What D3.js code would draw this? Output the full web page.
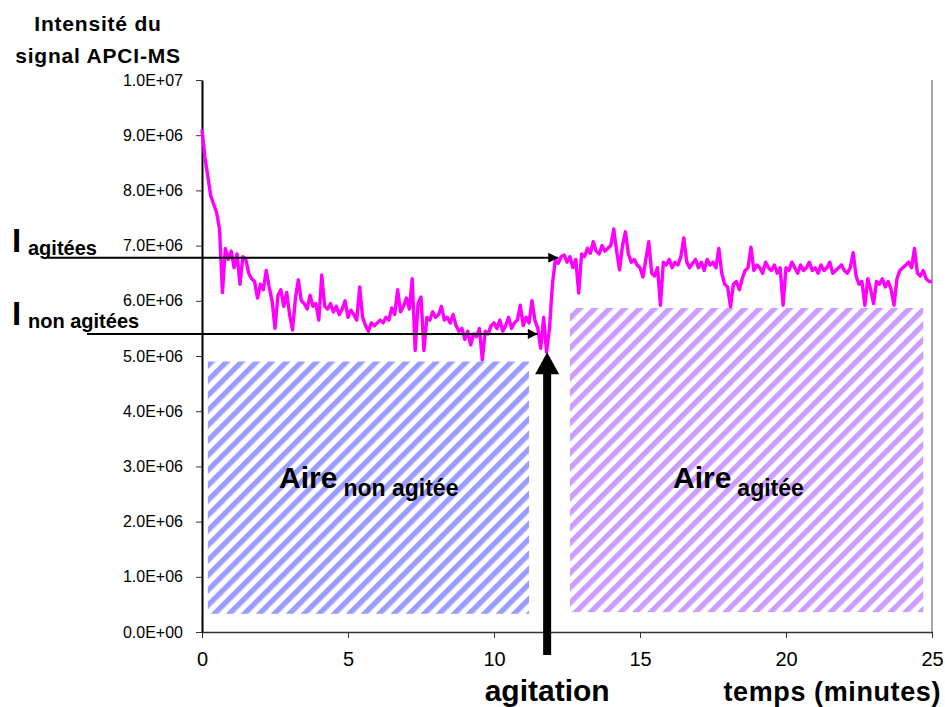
<!DOCTYPE html>
<html>
<head>
<meta charset="utf-8">
<script src="https://cdn.jsdelivr.net/npm/d3@7"></script>
<style>
  body { margin: 0; background: #fff; }
  svg text { font-family: "Liberation Sans", Arial, sans-serif; }
</style>
</head>
<body>
<div id="chart"></div>
<script>
// Dimensions
const width = 945;
const height = 707;
const margin = { top: 80, right: 13, bottom: 75, left: 202 };

// Axis data
const xTicks = [0, 5, 10, 15, 20, 25];
const yTicks = [0, 1, 2, 3, 4, 5, 6, 7, 8, 9, 10]; // in millions
const yTickLabels = ["0.0E+00", "1.0E+06", "2.0E+06", "3.0E+06", "4.0E+06", "5.0E+06",
                     "6.0E+06", "7.0E+06", "8.0E+06", "9.0E+06", "1.0E+07"];

// Signal, one value every 0.1 min (millions)
const step = 0.1;
const signal = [
  9.1, 8.6, 8.25, 7.9, 7.75, 7.6, 7.3, 6.15, 6.95, 6.75,      // 0
  6.9, 6.6, 6.85, 6.3, 6.8, 6.75, 6.5, 6.4, 6.35, 6.05,       // 1
  6.3, 6.2, 6.55, 6.25, 6.0, 5.5, 6.1, 6.2, 5.9, 6.15,        // 2
  5.75, 5.47, 6.05, 6.38, 6.0, 5.95, 5.85, 6.1, 5.9, 5.95,    // 3
  5.65, 6.47, 5.9, 5.85, 5.95, 5.8, 5.9, 5.75, 5.85, 6.0,     // 4
  5.7, 5.83, 5.75, 5.65, 6.25, 5.7, 5.55, 5.45, 5.6, 5.55,    // 5
  5.6, 5.65, 5.6, 5.7, 5.65, 5.87, 5.75, 6.2, 5.8, 5.9,       // 6
  6.05, 5.85, 6.4, 5.1, 5.95, 6.07, 5.1, 5.7, 5.65, 5.8,      // 7
  5.7, 5.75, 5.9, 5.65, 5.7, 5.6, 5.75, 5.55, 5.45, 5.5,      // 8
  5.3, 5.45, 5.2, 5.4, 5.35, 5.5, 4.93, 5.45, 5.4, 5.55,      // 9
  5.6, 5.5, 5.65, 5.45, 5.55, 5.7, 5.5, 5.6, 5.65, 5.92,      // 10
  5.55, 5.7, 5.6, 6.0, 5.65, 5.5, 5.14, 5.7, 5.07, 5.5,       // 11
  6.3, 6.74, 6.68, 6.8, 6.83, 6.7, 6.8, 6.6, 6.75, 6.14,      // 12
  6.85, 6.8, 6.95, 6.86, 7.07, 6.9, 6.85, 7.0, 6.9, 6.95,     // 13
  7.0, 7.3, 6.9, 6.56, 7.0, 7.25, 6.85, 6.7, 6.75, 6.65,      // 14
  6.6, 6.43, 6.75, 7.07, 6.5, 6.45, 6.6, 5.92, 6.7, 6.65,     // 15
  6.75, 6.6, 6.7, 6.65, 6.8, 7.14, 6.7, 6.6, 6.68, 6.75,      // 16
  6.6, 6.7, 6.55, 6.75, 6.65, 6.7, 6.6, 6.95, 6.5, 6.3,       // 17
  6.25, 5.89, 6.3, 6.35, 6.2, 6.4, 6.55, 6.6, 6.97, 6.55,     // 18
  6.65, 6.6, 6.5, 6.7, 6.6, 6.55, 6.65, 6.5, 6.6, 5.92,       // 19
  6.6, 6.55, 6.7, 6.6, 6.5, 6.65, 6.55, 6.6, 6.7, 6.55,       // 20
  6.6, 6.5, 6.65, 6.55, 6.6, 6.7, 6.5, 6.55, 6.6, 6.65,       // 21
  6.55, 6.5, 6.6, 6.87, 6.45, 6.3, 6.35, 5.92, 6.4, 6.2,      // 22
  5.95, 6.35, 6.3, 6.4, 6.25, 6.35, 6.2, 5.92, 6.4, 6.55,     // 23
  6.6, 6.65, 6.7, 6.6, 6.95, 6.5, 6.45, 6.55, 6.4, 6.35,      // 24
  6.35                                                          // 25
];

// Hatched areas (data units)
const areaNames = ["non agitée", "agitée"];
const areaX0 = [0.2, 12.6];
const areaX1 = [11.2, 24.7];
const areaTop = [4.9, 5.87];
const areaBottom = [0.33, 0.36];
const areaLabelX = [2.64, 16.13];
const areaColors = ["#9a9cff", "#cc9cff"];

// Intensity levels marked by arrows
const levelNames = ["agitées", "non agitées"];
const levelValues = [6.78, 5.4];
const levelEnds = [12.2, 11.5];
const agitationTime = 11.82;
const agitationTip = 5.07;

const svg = d3.select("#chart")
  .append("svg")
  .attr("width", width)
  .attr("height", height);

const xScale = d3.scaleLinear()
  .domain([0, 25])
  .range([margin.left, width - margin.right]);

const yScale = d3.scaleLinear()
  .domain([0, 10])
  .range([height - margin.bottom, margin.top]);

// Patterns for hatched areas
const defs = svg.append("defs");
areaColors.forEach((c, i) => {
  const p = defs.append("pattern")
    .attr("id", "hatch" + i)
    .attr("patternUnits", "userSpaceOnUse")
    .attr("width", 10.6)
    .attr("height", 10.6)
    .attr("patternTransform", "rotate(45)");
  p.append("rect")
    .attr("width", 5.3)
    .attr("height", 10.6)
    .attr("fill", c);
});

// Hatched rectangles
svg.append("g").selectAll("rect")
  .data(areaNames)
  .join("rect")
  .attr("x", (d, i) => xScale(areaX0[i]))
  .attr("y", (d, i) => yScale(areaTop[i]))
  .attr("width", (d, i) => xScale(areaX1[i]) - xScale(areaX0[i]))
  .attr("height", (d, i) => yScale(areaBottom[i]) - yScale(areaTop[i]))
  .attr("fill", (d, i) => `url(#hatch${i})`);

// Right border
svg.append("line")
  .attr("x1", xScale(25)).attr("x2", xScale(25))
  .attr("y1", yScale(10)).attr("y2", yScale(0))
  .attr("stroke", "#8a8a8a")
  .attr("stroke-width", 1.5);

// Axes
const gX = svg.append("g")
  .attr("transform", `translate(0, ${yScale(0)})`)
  .call(d3.axisBottom(xScale).tickValues(xTicks).tickSize(6).tickSizeOuter(0).tickPadding(14));
const gY = svg.append("g")
  .attr("transform", `translate(${xScale(0)}, 0)`)
  .call(d3.axisLeft(yScale).tickValues(yTicks).tickSize(6).tickSizeOuter(0).tickPadding(13)
    .tickFormat((d, i) => yTickLabels[i]));

gX.selectAll("text").attr("font-size", 20).attr("fill", "#000")
  .attr("font-family", "Liberation Sans, Arial, sans-serif");
gY.selectAll("text").attr("font-size", 16).attr("fill", "#000")
  .attr("font-family", "Liberation Sans, Arial, sans-serif");
gX.select(".domain").attr("stroke", "#333").attr("stroke-width", 1.5);
gY.select(".domain").attr("stroke", "#000").attr("stroke-width", 2);
svg.selectAll(".tick line").attr("stroke", "#333");

// Signal line
const line = d3.line()
  .x((d, i) => xScale(i * step))
  .y(d => yScale(d));

svg.append("path")
  .datum(signal)
  .attr("fill", "none")
  .attr("stroke", "#ff00ff")
  .attr("stroke-width", 3.4)
  .attr("stroke-linejoin", "round")
  .attr("d", line);

// Horizontal arrows
defs.append("marker")
  .attr("id", "head")
  .attr("viewBox", "0 0 10 10")
  .attr("refX", 10).attr("refY", 5)
  .attr("markerWidth", 5.5).attr("markerHeight", 5)
  .attr("markerUnits", "strokeWidth")
  .attr("orient", "auto")
  .append("path")
  .attr("d", "M0,0 L10,5 L0,10 Z")
  .attr("fill", "#000");

const arrowStarts = [48, 87];
svg.append("g").selectAll("line")
  .data(levelValues)
  .join("line")
  .attr("x1", (d, i) => arrowStarts[i])
  .attr("x2", (d, i) => xScale(levelEnds[i]))
  .attr("y1", d => yScale(d))
  .attr("y2", d => yScale(d))
  .attr("stroke", "#000")
  .attr("stroke-width", 2)
  .attr("marker-end", "url(#head)");

// Level labels
const labelBase = [255, 328];
levelNames.forEach((name, i) => {
  svg.append("text")
    .attr("x", 12)
    .attr("y", labelBase[i] - 3)
    .attr("font-weight", "bold")
    .attr("font-size", 33)
    .text("I");
  svg.append("text")
    .attr("x", 28)
    .attr("y", labelBase[i])
    .attr("font-weight", "bold")
    .attr("font-size", 20)
    .text(name);
});

// Vertical agitation arrow
const ax = xScale(agitationTime);
const tipY = yScale(agitationTip);
svg.append("rect")
  .attr("x", ax - 4)
  .attr("y", tipY + 18)
  .attr("width", 8)
  .attr("height", 655 - tipY - 18)
  .attr("fill", "#000");
svg.append("path")
  .attr("d", `M${ax},${tipY} L${ax + 12},${tipY + 22} L${ax - 12},${tipY + 22} Z`)
  .attr("fill", "#000");

// Area labels
const areaLabelY = 488;
areaNames.forEach((name, i) => {
  const t = svg.append("text")
    .attr("x", xScale(areaLabelX[i]))
    .attr("y", areaLabelY)
    .attr("font-weight", "bold");
  t.append("tspan").attr("font-size", 30).text("Aire");
  t.append("tspan").attr("font-size", 23).attr("dx", 6).attr("dy", 8).text(name);
});

// Y axis title
const yTitle = svg.append("text")
  .attr("text-anchor", "middle")
  .attr("font-weight", "bold")
  .attr("font-size", 21)
  .attr("letter-spacing", 0.8);
yTitle.append("tspan").attr("x", 98).attr("y", 31).text("Intensité du");
yTitle.append("tspan").attr("x", 98).attr("y", 63).text("signal APCI-MS");

// Bottom labels
svg.append("text")
  .attr("x", ax)
  .attr("y", 701)
  .attr("text-anchor", "middle")
  .attr("font-weight", "bold")
  .attr("font-size", 30)
  .text("agitation");

svg.append("text")
  .attr("x", 941)
  .attr("y", 701)
  .attr("text-anchor", "end")
  .attr("font-weight", "bold")
  .attr("font-size", 27)
  .attr("letter-spacing", 0.6)
  .text("temps (minutes)");
</script>
</body>
</html>
